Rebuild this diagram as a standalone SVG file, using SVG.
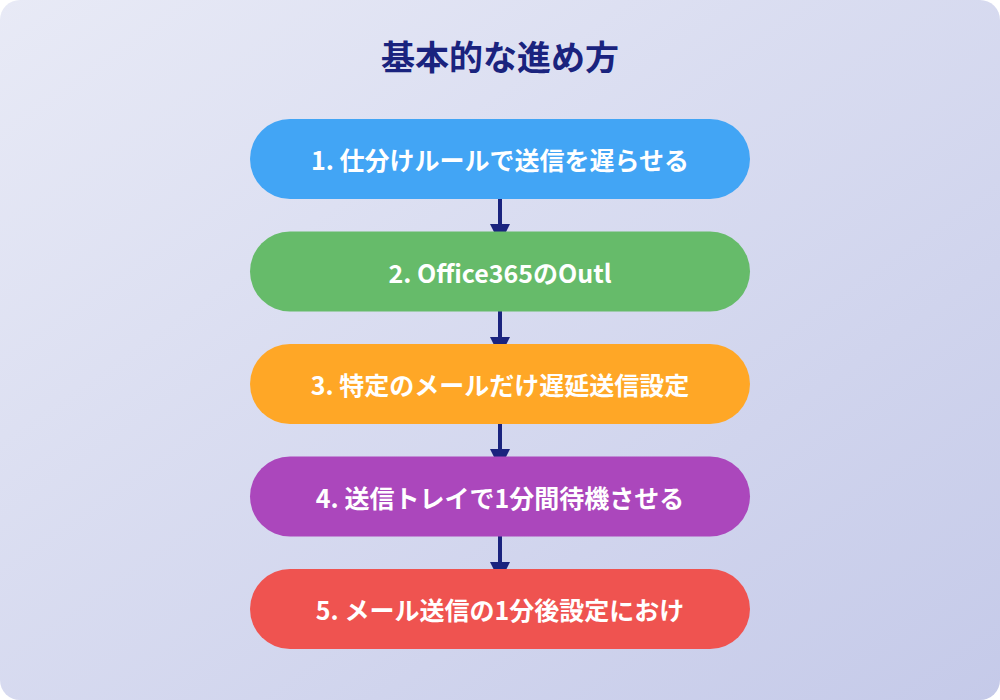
<svg xmlns="http://www.w3.org/2000/svg" width="1000" height="700" viewBox="0 0 1000 700">
  <defs>
    <linearGradient id="bg" x1="0" y1="0" x2="1" y2="1">
      <stop offset="0" stop-color="#e8eaf6"/>
      <stop offset="1" stop-color="#c5cae9"/>
    </linearGradient>
    <marker id="arrow" viewBox="0 0 10 10" refX="5" refY="5" markerWidth="5" markerHeight="5" orient="auto" markerUnits="strokeWidth">
      <path d="M0,0 L10,5 L0,10 Z" fill="#1a237e"/>
    </marker>
    <style>
      .conn { stroke: #1a237e; stroke-width: 4; fill: none; }
      .label { font-family: "Noto Sans CJK JP", "Noto Sans", sans-serif; font-weight: bold; font-size: 25px; fill: #ffffff; text-anchor: middle; dominant-baseline: central; }
      .title { font-family: "Noto Sans CJK JP", "Noto Sans", sans-serif; font-weight: bold; font-size: 34px; fill: #1a237e; text-anchor: middle; dominant-baseline: central; }
    </style>
  </defs>
  <rect x="0" y="0" width="1000" height="700" rx="20" ry="20" fill="url(#bg)"/>
  <text class="title" x="500" y="55">基本的な進め方</text>
  <g id="connectors">
    <line class="conn" x1="500" y1="199" x2="500" y2="234" marker-end="url(#arrow)"/>
    <line class="conn" x1="500" y1="311" x2="500" y2="347" marker-end="url(#arrow)"/>
    <line class="conn" x1="500" y1="424" x2="500" y2="459" marker-end="url(#arrow)"/>
    <line class="conn" x1="500" y1="536" x2="500" y2="572" marker-end="url(#arrow)"/>
  </g>
  <g id="node1">
    <rect x="250" y="119" width="500" height="80" rx="40" fill="#42a5f5"/>
    <text class="label" x="500" y="159">1. 仕分けルールで送信を遅らせる</text>
  </g>
  <g id="node2">
    <rect x="250" y="231.5" width="500" height="80" rx="40" fill="#66bb6a"/>
    <text class="label" x="500" y="271.5">2. Office365のOutl</text>
  </g>
  <g id="node3">
    <rect x="250" y="344" width="500" height="80" rx="40" fill="#ffa726"/>
    <text class="label" x="500" y="384">3. 特定のメールだけ遅延送信設定</text>
  </g>
  <g id="node4">
    <rect x="250" y="456.5" width="500" height="80" rx="40" fill="#ab47bc"/>
    <text class="label" x="500" y="496.5">4. 送信トレイで1分間待機させる</text>
  </g>
  <g id="node5">
    <rect x="250" y="569" width="500" height="80" rx="40" fill="#ef5350"/>
    <text class="label" x="500" y="609">5. メール送信の1分後設定におけ</text>
  </g>
</svg>
